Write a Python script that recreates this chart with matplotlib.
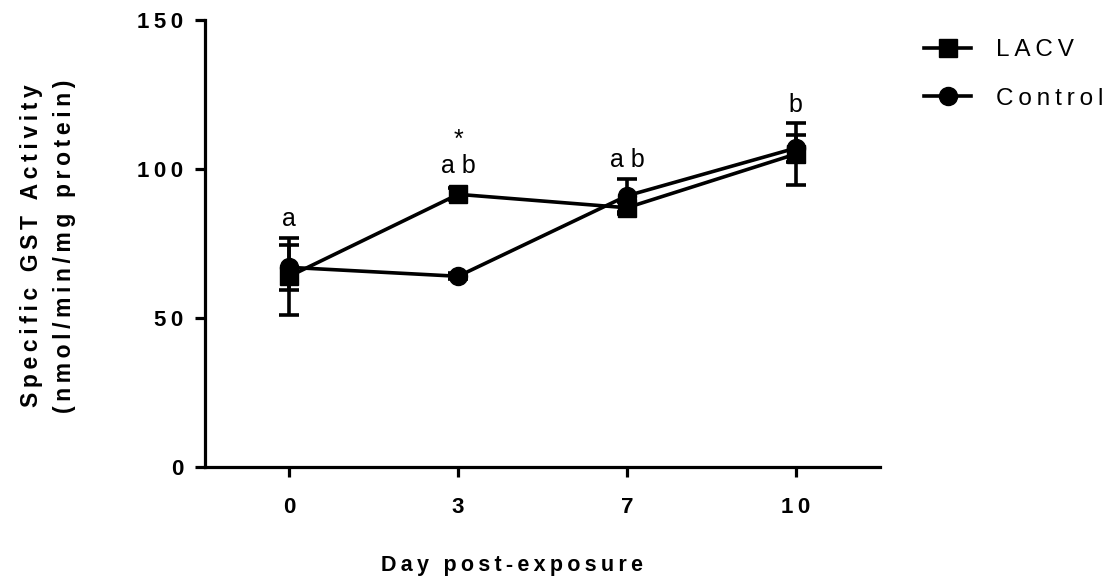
import matplotlib
matplotlib.use("Agg")
import matplotlib.pyplot as plt
from matplotlib.lines import Line2D

plt.rcParams['font.family'] = ['Liberation Sans', 'DejaVu Sans']

days = ["0", "3", "7", "10"]
lacv_mean = [64, 91.5, 87, 105]
lacv_err = [13, 2, 2, 10.5]
ctrl_mean = [67, 64, 91, 107]
ctrl_err = [7.5, 1, 5.5, 4.5]
letters = ["a", "a b", "a b", "b"]
letter_y = [81, 98.7, 100.7, 119]
star_day = 1
star_y = 107.5
yticks = [0, 50, 100, 150]


def spaced(s, sep='\u2009'):
    return sep.join(s)


fig = plt.figure(figsize=(11.18, 5.83), dpi=100)
W, H = 1118, 583
ax = fig.add_axes([205 / W, 1 - 467 / H, 675 / W, 447 / H])
x = list(range(len(days)))

lw = 2.6
ax.errorbar(x, lacv_mean, yerr=lacv_err, color='black', marker='s', markersize=13,
            linewidth=lw, elinewidth=lw, capsize=7, capthick=lw, zorder=3)
ax.errorbar(x, ctrl_mean, yerr=ctrl_err, color='black', marker='o', markersize=13,
            linewidth=lw, elinewidth=lw, capsize=7, capthick=lw, zorder=3)

for xi, t, yy in zip(x, letters, letter_y):
    ax.text(xi, yy, t, ha='center', va='baseline', fontsize=18)
ax.text(x[star_day], star_y, '*', ha='center', va='baseline', fontsize=18)

ax.set_xlim(-0.5, 3.5)
ax.set_ylim(0, 150)
ax.set_yticks(yticks)
ax.set_yticklabels([spaced(str(v)) for v in yticks])
ax.set_xticks(x)
ax.set_xticklabels([spaced(d) for d in days])
for s in ['top', 'right']:
    ax.spines[s].set_visible(False)
for s in ['left', 'bottom']:
    ax.spines[s].set_linewidth(2.3)
ax.tick_params(width=2.3, length=7.5, labelsize=16)
ax.tick_params(axis='y', pad=8)
ax.tick_params(axis='x', pad=14)
for lab in ax.get_xticklabels() + ax.get_yticklabels():
    lab.set_fontweight('bold')

fig.text(512 / W, 1 - 565 / H, spaced('Day post-exposure'), fontsize=15.5,
         fontweight='bold', ha='center', va='center')
fig.text(48 / W, 1 - 246 / H,
         spaced('Specific GST Activity') + '\n' + spaced('(nmol/min/mg protein)'),
         fontsize=16.5, fontweight='bold', ha='center', va='center', rotation=90,
         multialignment='center', linespacing=1.55)

handles = [Line2D([], [], color='black', marker='s', markersize=13, linewidth=lw),
           Line2D([], [], color='black', marker='o', markersize=13, linewidth=lw)]
fig.legend(handles, [spaced('LACV'), spaced('Control')], loc='upper left',
           bbox_to_anchor=(0.807, 0.97), frameon=False, fontsize=17.5,
           handlelength=1.95, handletextpad=1.0, labelspacing=1.08)

fig.savefig('out.png', dpi=100)
